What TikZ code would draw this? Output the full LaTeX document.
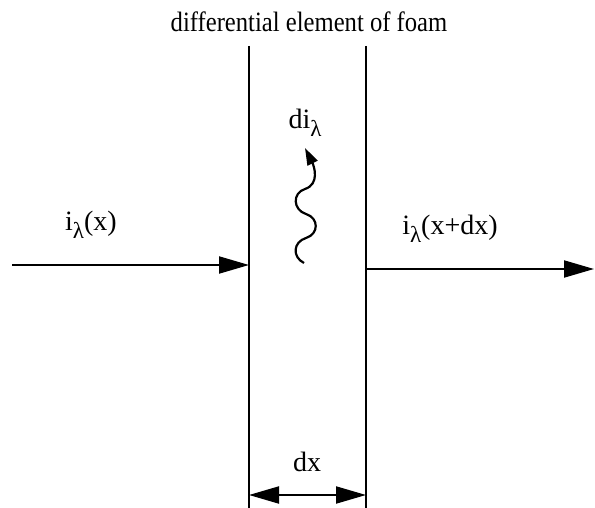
\documentclass[tikz,border=0pt]{standalone}
\usepackage{fontspec}
\setmainfont{Liberation Serif}
\usetikzlibrary{arrows.meta}
\newcommand{\lam}{\raisebox{-0.3em}{\fontsize{23}{25}\selectfont λ}}
\tikzset{
  wall/.style={line width=2pt},
  flow/.style={line width=2pt,-{Triangle[length=30pt,width=17pt]}},
  dim/.style={line width=2pt,{Triangle[length=30pt,width=17pt]}-{Triangle[length=30pt,width=17pt]}},
  wave/.style={line width=2.2pt,-{Triangle[length=17pt,width=11pt]}},
  lbl/.style={inner sep=0pt,font=\fontsize{28}{32}\selectfont}
}
\begin{document}
\begin{tikzpicture}[x=1pt,y=-1pt]
\useasboundingbox (0,0) rectangle (595,508);
\coordinate (lt) at (249,46);
\coordinate (lb) at (249,508);
\coordinate (rt) at (366,46);
\coordinate (rb) at (366,508);
\draw[wall] (lt) -- (lb);
\draw[wall] (rt) -- (rb);
\node[lbl] (title) at (309,22) {\scalebox{0.88}[1]{differential element of foam}};
\coordinate (inS) at (12,265);
\coordinate (inE) at (249,265);
\draw[flow] (inS) -- (inE);
\node[lbl] (iin) at (91,225) {i\lam(x)};
\coordinate (outS) at (366,269);
\coordinate (outE) at (594,269);
\draw[flow] (outS) -- (outE);
\node[lbl] (iout) at (450,229) {i\lam(x+dx)};
\coordinate (dL) at (249,495);
\coordinate (dR) at (366,495);
\draw[dim] (dL) -- (dR);
\node[lbl] (dx) at (307,462) {dx};
\node[lbl] (di) at (305,123) {di\lam};
\coordinate (w0) at (304,263);
\coordinate (w1) at (306,238);
\coordinate (w2) at (306,214);
\coordinate (w3) at (305,189);
\coordinate (wtip) at (305,148);
\draw[wave] (w0) .. controls (292,257) and (293,242) .. (w1)
  .. controls (319,234) and (319,218) .. (w2)
  .. controls (293,210) and (292,193) .. (w3)
  .. controls (320,184) and (314,166) .. (wtip);
\end{tikzpicture}
\end{document}
